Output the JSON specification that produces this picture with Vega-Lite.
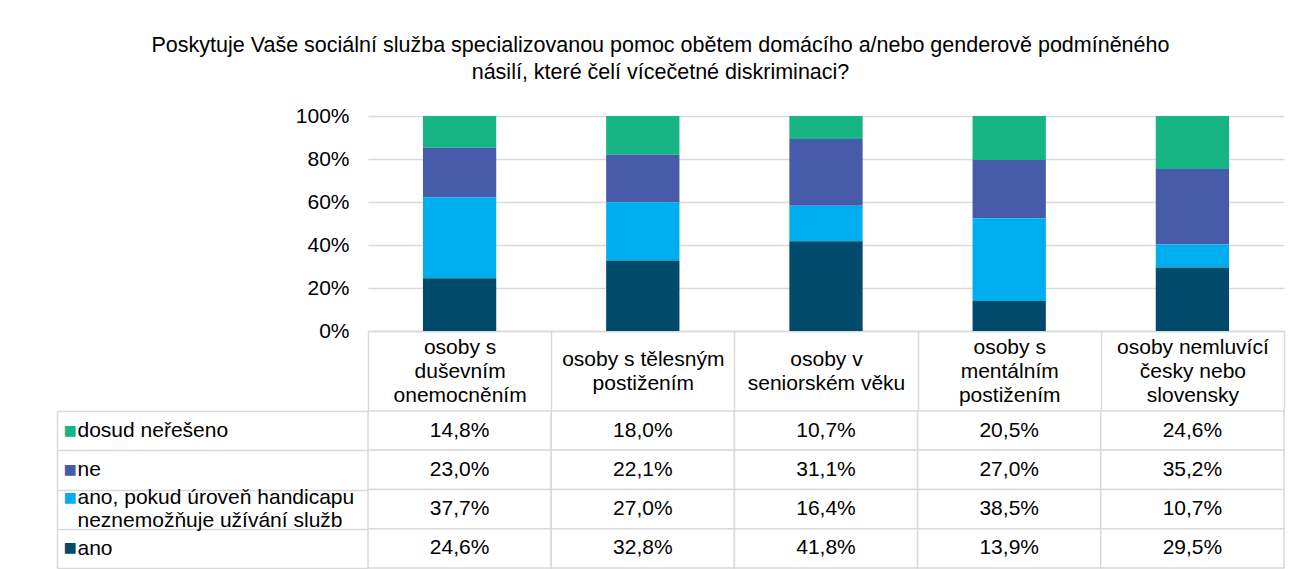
{
  "$schema": "https://vega.github.io/schema/vega-lite/v6.json",
  "padding": {"left": 56, "top": 34, "right": 12, "bottom": 2},
  "title": {
    "text": ["Poskytuje Vaše sociální služba specializovanou pomoc obětem domácího a/nebo genderově podmíněného", "násilí, které čelí vícečetné diskriminaci?"],
    "fontSize": 21.5, "fontWeight": "normal", "color": "#000000", "lineHeight": 27, "anchor": "middle", "offset": 22, "dx": -10
  },
  "config": {
    "font": "Liberation Sans",
    "view": {"stroke": null},
    "locale": {"number": {"decimal": ",", "thousands": " ", "grouping": [3], "currency": ["", " Kč"]}}
  },
  "data": {"values": [
    {"category": "osoby s duševním onemocněním", "series": "dosud neřešeno", "rank": 4, "value": 0.148},
    {"category": "osoby s duševním onemocněním", "series": "ne", "rank": 3, "value": 0.230},
    {"category": "osoby s duševním onemocněním", "series": "ano, pokud úroveň handicapu neznemožňuje užívání služb", "rank": 2, "value": 0.377},
    {"category": "osoby s duševním onemocněním", "series": "ano", "rank": 1, "value": 0.246},
    {"category": "osoby s tělesným postižením", "series": "dosud neřešeno", "rank": 4, "value": 0.180},
    {"category": "osoby s tělesným postižením", "series": "ne", "rank": 3, "value": 0.221},
    {"category": "osoby s tělesným postižením", "series": "ano, pokud úroveň handicapu neznemožňuje užívání služb", "rank": 2, "value": 0.270},
    {"category": "osoby s tělesným postižením", "series": "ano", "rank": 1, "value": 0.328},
    {"category": "osoby v seniorském věku", "series": "dosud neřešeno", "rank": 4, "value": 0.107},
    {"category": "osoby v seniorském věku", "series": "ne", "rank": 3, "value": 0.311},
    {"category": "osoby v seniorském věku", "series": "ano, pokud úroveň handicapu neznemožňuje užívání služb", "rank": 2, "value": 0.164},
    {"category": "osoby v seniorském věku", "series": "ano", "rank": 1, "value": 0.418},
    {"category": "osoby s mentálním postižením", "series": "dosud neřešeno", "rank": 4, "value": 0.205},
    {"category": "osoby s mentálním postižením", "series": "ne", "rank": 3, "value": 0.270},
    {"category": "osoby s mentálním postižením", "series": "ano, pokud úroveň handicapu neznemožňuje užívání služb", "rank": 2, "value": 0.385},
    {"category": "osoby s mentálním postižením", "series": "ano", "rank": 1, "value": 0.139},
    {"category": "osoby nemluvící česky nebo slovensky", "series": "dosud neřešeno", "rank": 4, "value": 0.246},
    {"category": "osoby nemluvící česky nebo slovensky", "series": "ne", "rank": 3, "value": 0.352},
    {"category": "osoby nemluvící česky nebo slovensky", "series": "ano, pokud úroveň handicapu neznemožňuje užívání služb", "rank": 2, "value": 0.107},
    {"category": "osoby nemluvící česky nebo slovensky", "series": "ano", "rank": 1, "value": 0.295}
  ]},
  "bounds": "flush",
  "spacing": 80,
  "vconcat": [
    {
      "width": 916,
      "height": 215,
      "mark": {"type": "bar"},
      "encoding": {
        "x": {
          "field": "category", "type": "nominal",
          "sort": ["osoby s duševním onemocněním", "osoby s tělesným postižením", "osoby v seniorském věku", "osoby s mentálním postižením", "osoby nemluvící česky nebo slovensky"],
          "scale": {"paddingInner": 0.6, "paddingOuter": 0.3},
          "axis": {"title": null, "labels": false, "ticks": false, "domain": true, "domainColor": "#D9D9D9", "domainWidth": 1.5}
        },
        "y": {
          "field": "value", "type": "quantitative", "stack": "normalize",
          "scale": {"domain": [0, 1], "nice": false},
          "axis": {"title": null, "format": ".0%", "values": [0, 0.2, 0.4, 0.6, 0.8, 1], "grid": true, "gridColor": "#D9D9D9", "gridWidth": 1.5, "domain": false, "ticks": false, "labelPadding": 19, "labelFontSize": 21, "labelColor": "#000000"}
        },
        "order": {"field": "rank", "type": "quantitative", "sort": "ascending"},
        "color": {
          "field": "series", "type": "nominal",
          "scale": {"domain": ["ano", "ano, pokud úroveň handicapu neznemožňuje užívání služb", "ne", "dosud neřešeno"], "range": ["#004B6B", "#00AEEF", "#485BAA", "#17B583"]},
          "legend": null
        }
      }
    },
    {
      "width": 916,
      "height": 157,
      "encoding": {
        "x": {
          "field": "category", "type": "nominal",
          "sort": ["osoby s duševním onemocněním", "osoby s tělesným postižením", "osoby v seniorském věku", "osoby s mentálním postižením", "osoby nemluvící česky nebo slovensky"],
          "scale": {"type": "band", "paddingInner": 0, "paddingOuter": 0},
          "axis": {
            "orient": "top", "title": null, "domain": false, "ticks": true, "tickBand": "extent", "tickSize": 80, "tickColor": "#D9D9D9", "tickWidth": 1.5,
            "labelBaseline": "middle", "labelFontSize": 21, "labelLineHeight": 24, "labelColor": "#000000", "labelLimit": 0, "labelAngle": 0,
            "labelPadding": {
              "condition": {"test": "datum.value == 'osoby s tělesným postižením' || datum.value == 'osoby v seniorském věku'", "value": -28},
              "value": -16
            },
            "labelExpr": "datum.value == 'osoby s duševním onemocněním' ? ['osoby s', 'duševním', 'onemocněním'] : datum.value == 'osoby s tělesným postižením' ? ['osoby s tělesným', 'postižením'] : datum.value == 'osoby v seniorském věku' ? ['osoby v', 'seniorském věku'] : datum.value == 'osoby s mentálním postižením' ? ['osoby s', 'mentálním', 'postižením'] : datum.value == 'osoby nemluvící česky nebo slovensky' ? ['osoby nemluvící', 'česky nebo', 'slovensky'] : ''"
          }
        }
      },
      "layer": [
        {
          "mark": {"type": "rect", "fill": "#FFFFFF", "stroke": "#D9D9D9", "strokeWidth": 1.5},
          "encoding": {
            "y": {
              "field": "series", "type": "nominal",
              "sort": ["dosud neřešeno", "ne", "ano, pokud úroveň handicapu neznemožňuje užívání služb", "ano"],
              "scale": {"type": "band", "paddingInner": 0, "paddingOuter": 0},
              "axis": {
                "orient": "left", "title": null, "domain": false, "ticks": true, "tickBand": "extent", "tickSize": 311, "tickColor": "#D9D9D9", "tickWidth": 1.5,
                "labelAlign": "left", "labelPadding": -20, "labelBaseline": "middle", "labelFontSize": 21, "labelLineHeight": 23, "labelColor": "#000000", "labelLimit": 0,
                "labelOffset": {
                  "condition": {"test": "datum.value == 'ano, pokud úroveň handicapu neznemožňuje užívání služb'", "value": -11.5},
                  "value": 0
                },
                "labelExpr": "datum.value == 'ano, pokud úroveň handicapu neznemožňuje užívání služb' ? ['ano, pokud úroveň handicapu', 'neznemožňuje užívání služb'] : datum.value ? datum.value : ''"
              }
            }
          }
        },
        {
          "mark": {"type": "text", "fontSize": 21, "color": "#000000"},
          "encoding": {
            "y": {
              "field": "series", "type": "nominal",
              "sort": ["dosud neřešeno", "ne", "ano, pokud úroveň handicapu neznemožňuje užívání služb", "ano"],
              "axis": {
                "orient": "left", "title": null, "offset": 311, "domain": true, "domainColor": "#D9D9D9", "domainWidth": 1.5, "ticks": false, "tickSize": 0,
                "labelAlign": "left", "labelPadding": -6, "labelBaseline": "middle", "labelFontSize": 22,
                "labelOffset": {
                  "condition": {"test": "datum.value == 'ano, pokud úroveň handicapu neznemožňuje užívání služb'", "value": -11.5},
                  "value": 0
                },
                "labelExpr": "datum.value ? '■' : ''",
                "labelColor": {
                  "condition": [
                    {"test": "datum.value === 'dosud neřešeno'", "value": "#17B583"},
                    {"test": "datum.value === 'ne'", "value": "#485BAA"},
                    {"test": "datum.value === 'ano'", "value": "#004B6B"}
                  ],
                  "value": "#00AEEF"
                }
              }
            },
            "text": {"field": "value", "type": "quantitative", "format": ".1%"}
          }
        }
      ],
      "resolve": {"axis": {"y": "independent"}}
    }
  ]
}
